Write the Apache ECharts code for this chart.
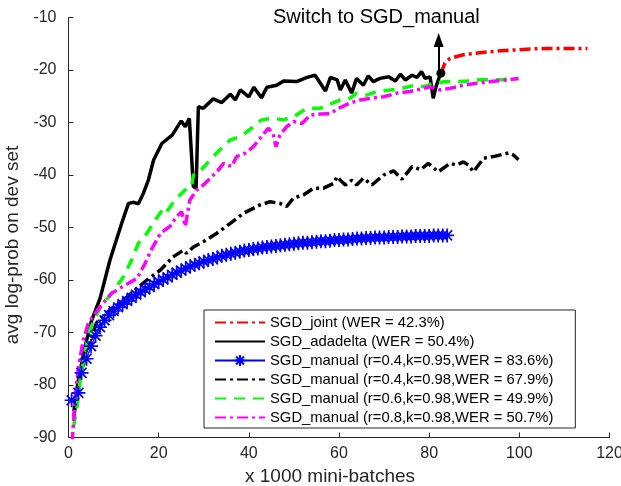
<!DOCTYPE html>
<html>
<head>
<meta charset="utf-8">
<script src="https://cdn.jsdelivr.net/npm/echarts@6/dist/echarts.min.js"></script>
<style>html,body{margin:0;padding:0;background:#fff}#c{width:621px;height:486px}</style>
</head>
<body>
<div id="c"></div>
<script>
// ---------------- data ----------------
const xTicks = [0, 20, 40, 60, 80, 100, 120];
const yTicks = [-90, -80, -70, -60, -50, -40, -30, -20, -10];
const seriesNames = [
  'SGD_joint (WER = 42.3%)',
  'SGD_adadelta (WER = 50.4%)',
  'SGD_manual (r=0.4,k=0.95,WER = 83.6%)',
  'SGD_manual (r=0.4,k=0.98,WER = 67.9%)',
  'SGD_manual (r=0.6,k=0.98,WER = 49.9%)',
  'SGD_manual (r=0.8,k=0.98,WER = 50.7%)'
];
const jointData = [[82.6,-20.6],[83.5,-18.7],[84.6,-17.8],[87.6,-17.1],[91.3,-16.7],[95.1,-16.4],[98.7,-16.2],[102.4,-16.0],[106.1,-15.9],[109.8,-15.9],[115.1,-15.9]];
const adadeltaData = [[1.2,-85],[2.0,-80],[3.0,-75.5],[4.0,-71.5],[5.1,-67.8],[7.0,-63.5],[9.2,-56.2],[11.8,-49.2],[13.3,-45.4],[14.5,-45.2],[15.5,-45.5],[16.6,-43.5],[17.7,-41],[18.9,-37.1],[20.7,-34],[23,-32.4],[25,-29.7],[25.9,-30.8],[26.8,-29.2],[27.7,-42.2],[28.3,-42.5],[28.8,-27],[29.9,-27.3],[32.1,-25.5],[34,-26.2],[35.9,-24.6],[37,-25.7],[38.1,-23.8],[40,-25.1],[41.1,-23.3],[42.8,-25.3],[44,-23.3],[46.2,-22.9],[47.7,-22.1],[50.6,-22.2],[52.9,-21.4],[54.7,-21],[57,-24],[58.1,-21.4],[59.6,-21.9],[60.3,-23.8],[61.4,-21.9],[62.8,-24.4],[63.9,-21.6],[65.4,-22.9],[66.5,-21.1],[67.6,-22.2],[69.1,-21.6],[71,-21.3],[72.5,-22.1],[73.6,-20.8],[74.7,-21.9],[76.2,-21],[77.3,-21.4],[78.3,-20.3],[79.1,-21.6],[80.2,-21.3],[80.9,-25.4],[81.5,-23.2],[82.4,-21],[82.6,-20.6]];
const manual095Data = [[0.7,-82.9],[2.2,-81.5],[2.9,-77.7],[4,-75.0],[5,-72.6],[6,-70.6],[7,-69.0],[8,-67.7],[9,-66.7],[10,-65.9],[11,-65.2],[12,-64.6],[13,-64.0],[14,-63.4],[15,-62.8],[16,-62.3],[17,-61.8],[18,-61.3],[19,-60.8],[20,-60.3],[21,-59.9],[22,-59.5],[23,-59.0],[24,-58.6],[25,-58.2],[26,-57.8],[27,-57.4],[28,-57.1],[29,-56.8],[30,-56.5],[31,-56.2],[32,-56.0],[33,-55.7],[34,-55.4],[35,-55.2],[36,-55.0],[37,-54.8],[38,-54.6],[39,-54.4],[40,-54.3],[41,-54.1],[42,-54.0],[43,-53.8],[44,-53.7],[45,-53.6],[46,-53.5],[47,-53.4],[48,-53.3],[49,-53.2],[50,-53.1],[51,-53.0],[52,-52.9],[53,-52.9],[54,-52.8],[55,-52.7],[56,-52.6],[57,-52.6],[58,-52.5],[59,-52.4],[60,-52.4],[61,-52.3],[62,-52.3],[63,-52.2],[64,-52.1],[65,-52.1],[66,-52.0],[67,-52.0],[68,-51.9],[69,-51.9],[70,-51.9],[71,-51.8],[72,-51.8],[73,-51.8],[74,-51.7],[75,-51.7],[76,-51.7],[77,-51.6],[78,-51.6],[79,-51.6],[80,-51.6],[81,-51.5],[82,-51.5],[83,-51.5],[84,-51.5]];
const manual04Data = [[1.2,-86],[1.8,-82],[2.6,-77.8],[4.0,-73.3],[6.2,-68.2],[9.2,-65.7],[12.2,-63.8],[15.2,-61.6],[17.4,-60],[20.4,-58.1],[23.2,-55.6],[25.5,-54.3],[26.2,-54.9],[27.7,-53.7],[29.9,-52.7],[32.9,-51.1],[35.9,-49.2],[37.4,-48.2],[38.8,-47.3],[41.1,-46.3],[42.5,-45.7],[44.7,-45.1],[46.9,-45.4],[48.4,-46],[49.9,-44.4],[52.1,-43.8],[54.4,-42.5],[56.6,-42.5],[58.8,-41.6],[59.6,-40.3],[60.3,-41],[61.4,-41.9],[62.8,-41],[63.9,-41.9],[65.4,-40.6],[67.3,-41.9],[69.9,-40],[72.1,-39.2],[74,-40.8],[76.2,-38.4],[78.1,-39],[79.8,-37.8],[82,-39.4],[84.6,-37.8],[86.1,-38.1],[87.6,-37.5],[88.7,-38.1],[89.8,-39.4],[92.1,-36.8],[94.7,-36.4],[97.6,-35.8],[98.7,-36.2],[99.8,-37.1]];
const manual06Data = [[1.1,-88],[1.9,-84.1],[2.6,-79],[3.6,-73.9],[4.7,-69.5],[7,-65.3],[9.6,-62.5],[12.2,-59.4],[14,-56.2],[15.5,-53],[17.4,-51.1],[19.2,-48.6],[21.1,-46.3],[21.8,-47],[23.6,-44.8],[25.8,-42.9],[27.3,-42.2],[27.7,-40],[29,-39.5],[31.4,-37.1],[33.6,-35.2],[35.9,-33.3],[38.1,-32.7],[40.6,-31.1],[42.8,-29.5],[45.4,-29.2],[47.7,-29.5],[49.9,-28.9],[52.9,-27.3],[55.8,-27.3],[58.1,-26.5],[60.3,-25.7],[62.4,-25.4],[63.9,-24.4],[66.2,-24.8],[68.4,-24.1],[71.4,-23.8],[74,-23.5],[76.8,-22.9],[78.8,-23.2],[81,-22.5],[83.9,-22.2],[86.9,-22.2],[89.1,-22.1],[91.7,-21.8],[94.3,-21.9],[96.4,-21.8],[99.8,-21.6]];
const manual08Data = [[0.8,-91],[1.2,-86],[1.5,-82.2],[2.2,-76.5],[3.3,-71.4],[4.4,-68.2],[7,-65.1],[9.6,-62.5],[12.5,-61],[15.2,-59.7],[17,-56.8],[18.5,-54],[20.4,-51.1],[22.5,-49.8],[24,-47.9],[25.1,-47],[25.9,-49.8],[26.9,-44.8],[28.4,-42.9],[29.9,-41.9],[32.9,-39.4],[34.4,-37.8],[36.2,-38.4],[37.3,-36.5],[39.1,-35.9],[41,-34.6],[42.8,-32.7],[44.3,-31.1],[45.4,-32.1],[46,-34.6],[46.9,-32.4],[48.4,-30.8],[49.9,-29.8],[51.8,-30.2],[53.6,-28.6],[55.8,-28.4],[58.1,-28.3],[59.9,-27.3],[60.3,-27],[62.4,-26.3],[64.7,-25.7],[66.9,-25.4],[69.9,-25.1],[72.9,-24.4],[75.8,-24.1],[78.8,-23.5],[80.2,-23.2],[82.4,-23.8],[84.6,-23.5],[87.6,-22.9],[90.6,-22.5],[93.6,-22.2],[97.2,-21.9],[99.8,-21.6]];
// annotation: switch point and arrow
const switchPoint = [82.6, -20.6];
const arrowX = 82.1;
const arrowTipY = -14.3;
const annotationText = 'Switch to SGD_manual';
const xAxisTitle = 'x 1000 mini-batches';
const yAxisTitle = 'avg log-prob on dev set';

// ---------------- chart ----------------
const FONT = '"Liberation Sans", Arial, Helvetica, sans-serif';
const AX = '#262626';
const asterisk = 'path://M0,-10L0,10M-10,0L10,0M-7.07,-7.07L7.07,7.07M-7.07,7.07L7.07,-7.07';
const dashDot = [11, 4, 3, 4];

// legend entries: line-only icons except the asterisk series
const legendData = seriesNames.map((n, i) => i === 2 ? {name: n} : {name: n, itemStyle: {opacity: 0}});

const chart = echarts.init(document.getElementById('c'), null, {renderer: 'canvas'});
chart.setOption({
  animation: false,
  backgroundColor: '#fff',
  textStyle: {fontFamily: FONT},
  title: {
    text: annotationText, left: 273, top: 7, padding: 0,
    textStyle: {fontFamily: FONT, fontSize: 20, fontWeight: 'normal', color: '#000'}
  },
  grid: {left: 68.5, right: 11.5, top: 17.5, bottom: 48.5, containLabel: false, outerBoundsMode: 'none'},
  xAxis: {
    type: 'value', min: xTicks[0], max: xTicks[xTicks.length - 1], interval: 20,
    name: xAxisTitle, nameLocation: 'middle', nameGap: 30,
    nameTextStyle: {fontFamily: FONT, fontSize: 19, color: AX, padding: [0, 18, 0, 0]},
    axisLine: {show: true, onZero: false, lineStyle: {color: AX, width: 1}},
    axisTick: {show: true, inside: true, length: 5, lineStyle: {color: AX}},
    axisLabel: {fontFamily: FONT, fontSize: 16, color: AX, margin: 8},
    splitLine: {show: false}
  },
  yAxis: {
    type: 'value', min: yTicks[0], max: yTicks[yTicks.length - 1], interval: 10,
    name: yAxisTitle, nameLocation: 'middle', nameGap: 40,
    nameTextStyle: {fontFamily: FONT, fontSize: 19, color: AX, padding: [0, 35, 0, 0]},
    axisLine: {show: true, onZero: false, lineStyle: {color: AX, width: 1}},
    axisTick: {show: true, inside: true, length: 5, lineStyle: {color: AX}},
    axisLabel: {fontFamily: FONT, fontSize: 16, color: AX, margin: 12},
    splitLine: {show: false}
  },
  legend: {
    data: legendData,
    orient: 'vertical', left: 204, top: 310,
    itemWidth: 50, itemHeight: 14, itemGap: 4,
    padding: [5, 22, 3, 10],
    borderColor: AX, borderWidth: 1, backgroundColor: '#fff',
    textStyle: {fontFamily: FONT, fontSize: 14.8, color: '#000', lineHeight: 14},
    z: 10
  },
  series: [
    {
      name: seriesNames[0], type: 'line', data: jointData, symbol: 'none',
      lineStyle: {color: '#ff0000', width: 3.5, type: dashDot, cap: 'butt'},
      itemStyle: {color: '#ff0000'},
      markPoint: {
        silent: true, symbol: 'circle', symbolSize: 9,
        itemStyle: {color: '#000'}, label: {show: false},
        data: [{coord: switchPoint}]
      },
      markLine: {
        silent: true, symbol: ['none', 'triangle'], symbolSize: [10, 14],
        lineStyle: {color: '#000', width: 2, type: 'solid'}, label: {show: false},
        data: [[{coord: [arrowX, switchPoint[1]]}, {coord: [arrowX, arrowTipY]}]]
      }
    },
    {
      name: seriesNames[1], type: 'line', data: adadeltaData, symbol: 'none',
      lineStyle: {color: '#000000', width: 3.5, type: 'solid'},
      itemStyle: {color: '#000000'}
    },
    {
      name: seriesNames[2], type: 'line', data: manual095Data,
      symbol: asterisk, symbolSize: 14, showSymbol: true,
      lineStyle: {color: '#0000ff', width: 1.2},
      itemStyle: {color: '#0000ff', borderColor: '#0000ff', borderWidth: 1.7}
    },
    {
      name: seriesNames[3], type: 'line', data: manual04Data, symbol: 'none',
      lineStyle: {color: '#000000', width: 3.5, type: dashDot, cap: 'butt'},
      itemStyle: {color: '#000000'}
    },
    {
      name: seriesNames[4], type: 'line', data: manual06Data, symbol: 'none',
      lineStyle: {color: '#00ff00', width: 3.5, type: [11, 8], cap: 'butt'},
      itemStyle: {color: '#00ff00'}
    },
    {
      name: seriesNames[5], type: 'line', data: manual08Data, symbol: 'none',
      lineStyle: {color: '#ff00ff', width: 3.5, type: dashDot, cap: 'butt'},
      itemStyle: {color: '#ff00ff'}
    }
  ]
});
</script>
</body>
</html>
